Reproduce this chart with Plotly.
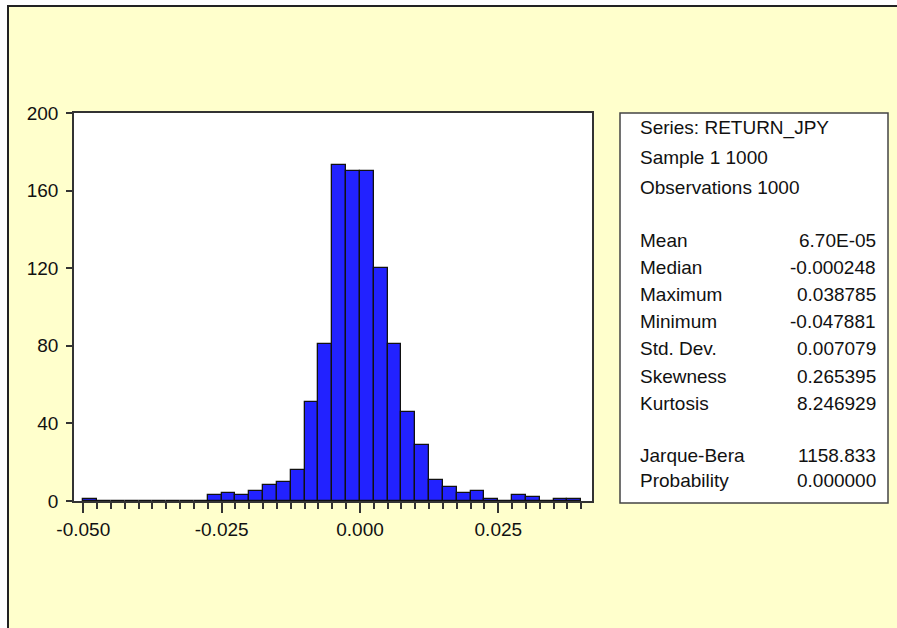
import plotly.graph_objects as go

# histogram of RETURN_JPY, bins of width 0.0025 (lower edges)
bin_width = 0.0025
bin_start = [-0.0500, -0.0475, -0.0450, -0.0425, -0.0400, -0.0375, -0.0350, -0.0325,
             -0.0300, -0.0275, -0.0250, -0.0225, -0.0200, -0.0175, -0.0150, -0.0125,
             -0.0100, -0.0075, -0.0050, -0.0025, 0.0000, 0.0025, 0.0050, 0.0075,
             0.0100, 0.0125, 0.0150, 0.0175, 0.0200, 0.0225, 0.0250, 0.0275,
             0.0300, 0.0325, 0.0350, 0.0375]
counts = [1, 0, 0, 0, 0, 0, 0, 0,
          0, 3, 4, 3, 5, 8, 10, 16,
          51, 81, 173, 170, 170, 120, 81, 46,
          29, 11, 7, 4, 5, 1, 0, 3,
          2, 0, 1, 1]

x_ticks = [-0.050, -0.025, 0.000, 0.025]
y_ticks = [0, 40, 80, 120, 160, 200]

header_lines = ["Series: RETURN_JPY", "Sample 1 1000", "Observations 1000"]
stat_names = ["Mean", "Median", "Maximum", "Minimum", "Std. Dev.", "Skewness", "Kurtosis"]
stat_values = ["6.70E-05", "-0.000248", "0.038785", "-0.047881", "0.007079", "0.265395", "8.246929"]
test_names = ["Jarque-Bera", "Probability"]
test_values = ["1158.833", "0.000000"]

W, H = 897, 628
L, R, T, B = 74, 592, 113, 501   # plot area in pixels
FONT = "Liberation Sans, Arial, sans-serif"
BG = "#FFFFCC"


def px_x(p):
    return (p - L) / (R - L)


def px_y(p):
    return (B - p) / (B - T)


fig = go.Figure()
fig.add_trace(go.Bar(
    x=bin_start,
    y=counts,
    width=bin_width,
    offset=0,
    marker=dict(color="#2222FF", line=dict(color="#111111", width=1.3)),
    showlegend=False,
))

shapes = [
    # white strips outside the frame
    dict(type="rect", xref="paper", yref="paper", x0=px_x(0), x1=px_x(W), y0=px_y(6), y1=px_y(0),
         fillcolor="white", line=dict(width=0), layer="below"),
    dict(type="rect", xref="paper", yref="paper", x0=px_x(0), x1=px_x(7), y0=px_y(H), y1=px_y(0),
         fillcolor="white", line=dict(width=0), layer="below"),
    # keep the right margin plain background
    dict(type="rect", xref="paper", yref="paper", x0=px_x(889), x1=px_x(W), y0=px_y(H), y1=px_y(8),
         fillcolor=BG, line=dict(width=0)),
    # outer frame (top and left only, the rest is off-picture)
    dict(type="path", xref="paper", yref="paper",
         path=f"M {px_x(8)},{px_y(H)} L {px_x(8)},{px_y(6)} L {px_x(W)},{px_y(6)}",
         line=dict(color="#222222", width=2)),
    # statistics box
    dict(type="rect", xref="paper", yref="paper", x0=px_x(620), x1=px_x(888), y0=px_y(503), y1=px_y(113),
         fillcolor="white", line=dict(color="#444444", width=1.5)),
]

annotations = []
left_x, right_x = px_x(638), px_x(878)
for i, txt in enumerate(header_lines):
    annotations.append(dict(text=txt, x=left_x, y=px_y(128 + 29.5 * i), xanchor="left"))
for i, (n, v) in enumerate(zip(stat_names, stat_values)):
    yy = px_y(240 + 27.2 * i)
    annotations.append(dict(text=n, x=left_x, y=yy, xanchor="left"))
    annotations.append(dict(text=v, x=right_x, y=yy, xanchor="right"))
for i, (n, v) in enumerate(zip(test_names, test_values)):
    yy = px_y(455 + 25.5 * i)
    annotations.append(dict(text=n, x=left_x, y=yy, xanchor="left"))
    annotations.append(dict(text=v, x=right_x, y=yy, xanchor="right"))
for a in annotations:
    a.update(xref="paper", yref="paper", yanchor="middle", showarrow=False,
             font=dict(family=FONT, size=19, color="#111111"))

fig.update_layout(
    width=W, height=H,
    margin=dict(l=L, r=W - R, t=T, b=H - B, pad=0),
    paper_bgcolor=BG,
    plot_bgcolor="white",
    bargap=0,
    shapes=shapes,
    annotations=annotations,
    font=dict(family=FONT, size=19, color="#111111"),
)
fig.update_xaxes(
    range=[-0.05168, 0.04193],
    tickmode="array",
    tickvals=x_ticks,
    ticktext=[f"{v:.3f}" for v in x_ticks],
    ticks="outside", ticklen=10, tickwidth=1.5, tickcolor="#333333",
    minor=dict(ticks="outside", ticklen=6, tickwidth=1.5, tickcolor="#333333",
               tickmode="linear", tick0=0, dtick=bin_width, showgrid=False),
    showline=True, linecolor="#333333", linewidth=1.5, mirror=True,
    showgrid=False, zeroline=False,
)
fig.update_yaxes(
    range=[0, 200],
    tickmode="array",
    tickvals=y_ticks,
    ticks="outside", ticklen=6, tickwidth=1.5, tickcolor="#333333",
    ticklabelstandoff=4,
    showline=True, linecolor="#333333", linewidth=1.5, mirror=True,
    showgrid=False, zeroline=False,
)

# the page's default body margin would push the figure 8px off the window
page_fix = ("document.body.style.margin='0';"
            "document.body.style.overflow='hidden';"
            "document.documentElement.style.overflow='hidden';")
fig.write_html("out.html", config={"displayModeBar": False}, post_script=page_fix)
